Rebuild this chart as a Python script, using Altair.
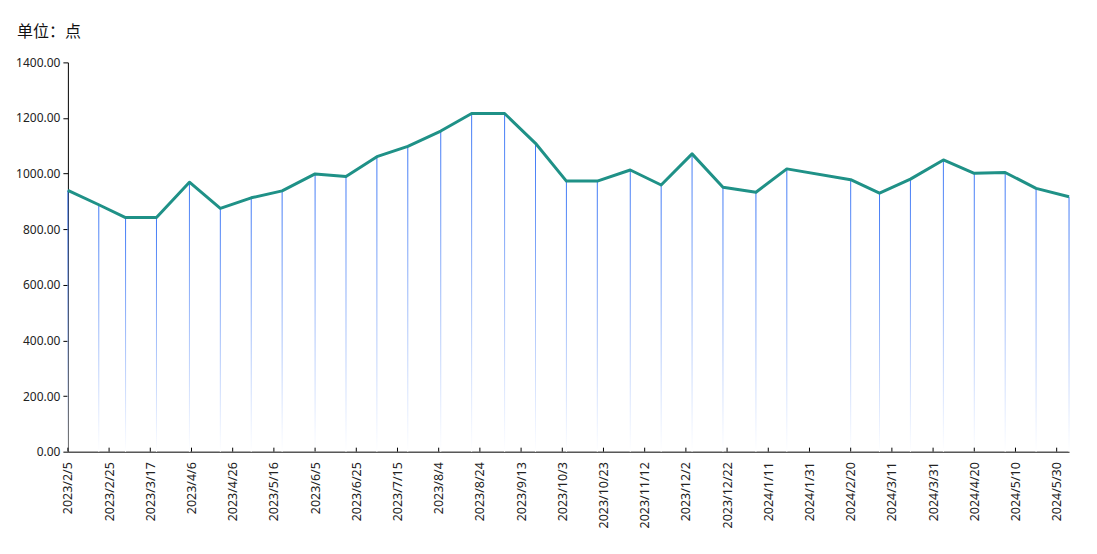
import altair as alt
import pandas as pd

# ---- data ----
dates = [
    "2023/2/5", "2023/2/20", "2023/3/5", "2023/3/20", "2023/4/5", "2023/4/20",
    "2023/5/5", "2023/5/20", "2023/6/5", "2023/6/20", "2023/7/5", "2023/7/20",
    "2023/8/5", "2023/8/20", "2023/9/5", "2023/9/20", "2023/10/5", "2023/10/20",
    "2023/11/5", "2023/11/20", "2023/12/5", "2023/12/20", "2024/1/5", "2024/1/20",
    "2024/2/20", "2024/3/5", "2024/3/20", "2024/4/5", "2024/4/20", "2024/5/5",
    "2024/5/20", "2024/6/5",
]
values = [
    940, 888, 842, 842, 969, 875,
    913, 938, 999, 990, 1061, 1098,
    1153, 1216, 1216, 1109, 973, 973,
    1013, 959, 1071, 951, 933, 1017,
    978, 930, 980, 1049, 1001, 1004,
    947, 917,
]
tick_labels = [
    "2023/2/5", "2023/2/25", "2023/3/17", "2023/4/6", "2023/4/26", "2023/5/16",
    "2023/6/5", "2023/6/25", "2023/7/15", "2023/8/4", "2023/8/24", "2023/9/13",
    "2023/10/3", "2023/10/23", "2023/11/12", "2023/12/2", "2023/12/22",
    "2024/1/11", "2024/1/31", "2024/2/20", "2024/3/11", "2024/3/31",
    "2024/4/20", "2024/5/10", "2024/5/30",
]
y_ticks = [0, 200, 400, 600, 800, 1000, 1200, 1400]
title_text = "单位：点"

FONT = "Noto Sans"
CJK_FONT = "Noto Sans CJK SC"
W, H = 1003, 390


def to_dt(s):
    y, m, d = (int(p) for p in s.split("/"))
    return alt.DateTime(year=y, month=m, date=d)


df = pd.DataFrame({"date": dates, "value": values})
ticks_df = pd.DataFrame({"date": tick_labels})

x_scale = alt.Scale(domain=[to_dt(dates[0]), to_dt(dates[-1])], nice=False, padding=0)
y_scale = alt.Scale(domain=[0, 1400], nice=False)

x_enc = alt.X(
    "date:T",
    scale=x_scale,
    axis=alt.Axis(
        values=[to_dt(s) for s in tick_labels],
        format="%Y/%-m/%-d",
        labelAngle=270,
        labelFontSize=12.5,
        labelFont=FONT,
        labelColor="#222222",
        labelPadding=10,
        ticks=False,
        grid=False,
        domainColor="#000000",
        title=None,
        labelOverlap=False,
    ),
)

y_enc = alt.Y(
    "value:Q",
    scale=y_scale,
    axis=alt.Axis(
        values=y_ticks,
        format=".2f",
        labelFontSize=12,
        labelFont=FONT,
        labelColor="#222222",
        labelPadding=3,
        tickSize=5,
        tickColor="#000000",
        domainColor="#000000",
        grid=False,
        title=None,
    ),
)

gradient = alt.LinearGradient(
    gradient="linear",
    stops=[
        alt.GradientStop(color="#3b76f6", offset=0),
        alt.GradientStop(color="#ffffff", offset=1),
    ],
    x1=0, x2=0, y1=0, y2=1,
)

base = alt.Chart(df)

stems = base.mark_bar(width=1, color=gradient).encode(
    x=x_enc,
    y=y_enc,
)

line = base.mark_line(color="#1f9187", strokeWidth=3, strokeJoin="round").encode(
    x=alt.X("date:T", scale=x_scale),
    y=alt.Y("value:Q", scale=y_scale),
)

tick_marks = alt.Chart(ticks_df).mark_rule(color="#000000", strokeWidth=1).encode(
    x=alt.X("date:T", scale=x_scale),
    y=alt.value(H - 4),
    y2=alt.value(H),
)

title = alt.Chart(pd.DataFrame({"t": [title_text]})).mark_text(
    align="left", baseline="middle", fontSize=16, font=CJK_FONT, color="#111111"
).encode(
    text="t:N",
    x=alt.value(-51),
    y=alt.value(-30),
)

chart = (
    alt.layer(stems, line, tick_marks, title)
    .properties(
        width=W,
        height=H,
        autosize=alt.AutoSizeParams(type="none"),
        padding={"left": 60, "top": 54, "right": 20, "bottom": 80},
    )
    .configure_view(stroke=None)
)

chart.save("out.html", embed_options={"renderer": "svg", "actions": False})
